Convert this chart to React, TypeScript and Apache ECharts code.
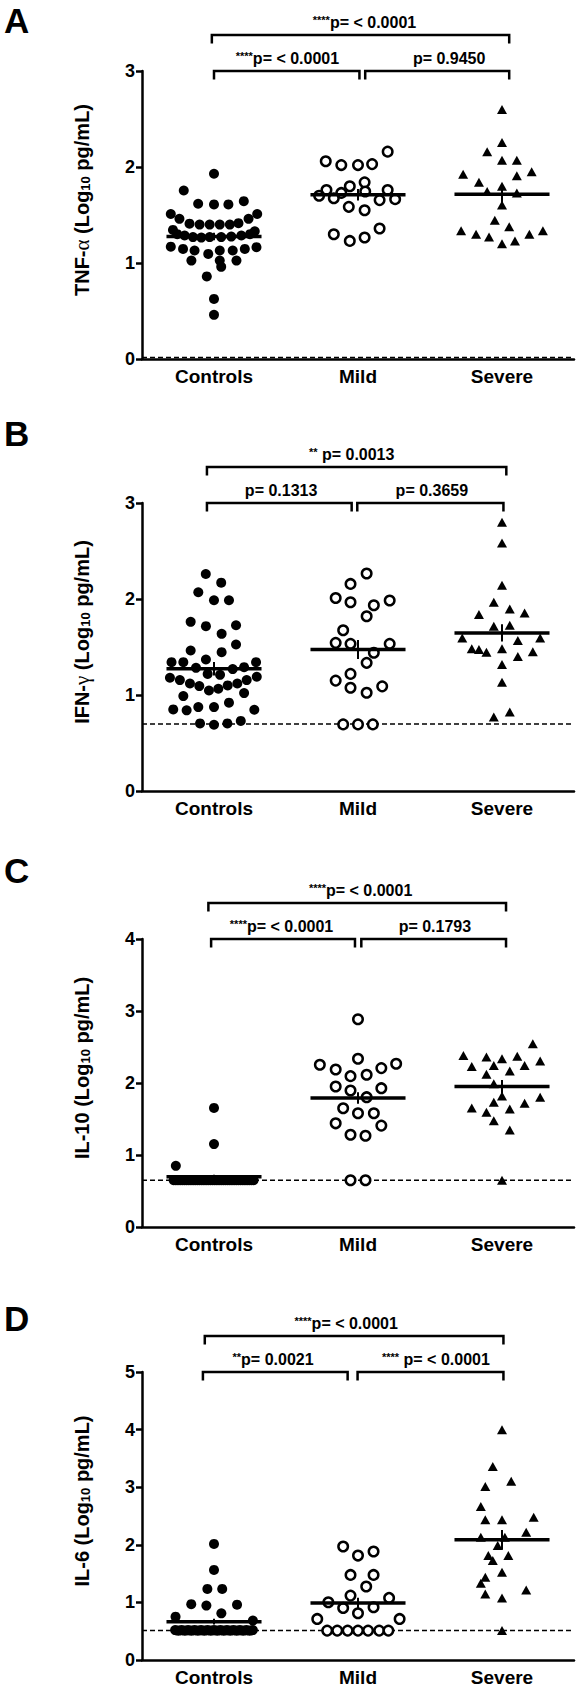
import React, { useEffect, useRef } from "react";
import * as echarts from "echarts";

const FONT = '"Liberation Sans", Arial, Helvetica, sans-serif';
const CATEGORIES = ["Controls", "Mild", "Severe"];

// Each point: [horizontal jitter within group (category units), log10 value]
// ---------- Panel A : TNF-alpha ----------
const A_CONTROLS = [
  [0, 1.93], [-0.21, 1.755], [-0.11, 1.617], [0, 1.61], [0.1, 1.61], [0.207, 1.644],
  [-0.3, 1.51], [0.3, 1.51], [-0.24, 1.46], [0.24, 1.46],
  [-0.17, 1.41], [-0.1, 1.4], [-0.03, 1.4], [0.04, 1.4], [0.11, 1.4], [0.17, 1.415],
  [-0.285, 1.345], [0.283, 1.33],
  [-0.255, 1.3], [-0.204, 1.286], [-0.146, 1.27], [-0.088, 1.265], [-0.03, 1.27], [0.05, 1.27], [0.12, 1.275], [0.19, 1.286], [0.25, 1.3],
  [-0.3, 1.17], [-0.215, 1.147], [-0.135, 1.13], [-0.04, 1.095], [0.04, 1.13], [0.13, 1.13], [0.214, 1.147], [0.295, 1.165],
  [-0.157, 1.025], [0.04, 1.025], [0.05, 0.96], [0.156, 1.025],
  [-0.05, 0.86], [0, 0.626], [0, 0.46],
];
const A_MILD = [
  [0.206, 2.16], [-0.224, 2.06], [-0.116, 2.02], [0, 2.02], [0.098, 2.03],
  [0.046, 1.84], [-0.057, 1.8], [-0.219, 1.76], [0.206, 1.76],
  [-0.27, 1.7], [-0.116, 1.73], [0.05, 1.745],
  [-0.168, 1.675], [0.15, 1.655], [0.258, 1.665],
  [-0.064, 1.585], [0.046, 1.55],
  [-0.168, 1.3], [0.15, 1.36], [-0.057, 1.23], [0.046, 1.266],
];
const A_SEVERE = [
  [0, 2.6], [0, 2.255], [-0.103, 2.16], [0, 2.07], [0.103, 2.07],
  [-0.27, 1.925], [0.206, 1.95], [0.103, 1.91], [-0.16, 1.84], [0, 1.8],
  [-0.103, 1.745], [0.103, 1.73], [0, 1.605], [-0.05, 1.446], [0.05, 1.377],
  [-0.284, 1.335], [-0.18, 1.3], [-0.09, 1.27], [0, 1.2], [0.09, 1.23], [0.19, 1.3], [0.284, 1.335],
];
const A_MEANS = [1.276, 1.71, 1.717];
const A_SEMS = [0.04, 0.06, 0.1];
const A_LIMIT = 0.015;
const A_BRACKETS = [
  { x1: 0, x2: 1.01, level: 0, tx: 0.51, stars: "****", text: "p= < 0.0001" },
  { x1: 1.05, x2: 2.05, level: 0, tx: 1.633, stars: "", text: "p= 0.9450" },
  { x1: -0.015, x2: 2.05, level: 1, tx: 1.045, stars: "****", text: "p= < 0.0001" },
];

// ---------- Panel B : IFN-gamma ----------
const B_CONTROLS = [
  [-0.057, 2.26], [0.05, 2.17], [-0.109, 2.07], [0, 1.987], [0.104, 1.987],
  [-0.162, 1.762], [-0.056, 1.717], [0.153, 1.727], [0.053, 1.637], [0.153, 1.526], [-0.162, 1.464], [0.053, 1.446], [-0.056, 1.37],
  [-0.295, 1.342], [-0.213, 1.342], [0.292, 1.342],
  [-0.125, 1.283], [0.209, 1.29], [0.13, 1.27],
  [-0.044, 1.22], [0.042, 1.21],
  [-0.306, 1.18], [-0.237, 1.155], [-0.167, 1.12], [-0.102, 1.093], [0.297, 1.19], [0.227, 1.155], [0.162, 1.12], [0.095, 1.1],
  [-0.035, 1.047], [0.03, 1.065],
  [-0.213, 0.989], [0.209, 1.02],
  [-0.283, 0.85], [-0.19, 0.84], [-0.109, 0.874], [0, 0.874], [0.104, 0.92], [0.28, 0.846],
  [-0.097, 0.704], [0, 0.69], [0.093, 0.704], [0.186, 0.73],
];
const B_MILD = [
  [0.06, 2.265], [-0.052, 2.157], [-0.155, 2.01], [-0.052, 1.966], [0.11, 1.935], [0.22, 1.984],
  [0.06, 1.82], [-0.103, 1.675], [-0.155, 1.543], [-0.052, 1.533], [0.22, 1.533],
  [0.11, 1.44], [0.06, 1.335], [-0.052, 1.22], [-0.155, 1.15],
  [-0.052, 1.075], [0.06, 1.023], [0.168, 1.09],
  [-0.103, 0.694], [0, 0.694], [0.103, 0.694],
];
const B_SEVERE = [
  [0, 2.8], [0, 2.584], [0, 2.143], [-0.057, 1.966],
  [-0.16, 1.838], [0.054, 1.897], [0.157, 1.855],
  [-0.057, 1.717], [0.054, 1.727],
  [-0.276, 1.595], [0.265, 1.595],
  [-0.21, 1.481], [-0.16, 1.474], [-0.108, 1.446], [0, 1.481], [0.11, 1.568], [0.214, 1.45], [0.11, 1.4],
  [0, 1.318], [0, 1.134], [-0.057, 0.77], [0.054, 0.822],
];
const B_MEANS = [1.273, 1.474, 1.647];
const B_SEMS = [0.07, 0.1, 0.09];
const B_LIMIT = 0.699;
const B_BRACKETS = [
  { x1: -0.049, x2: 0.956, level: 0, tx: 0.466, stars: "", text: "p= 0.1313" },
  { x1: 0.995, x2: 2.01, level: 0, tx: 1.513, stars: "", text: "p= 0.3659" },
  { x1: -0.049, x2: 2.03, level: 1, tx: 0.956, stars: "**", text: " p= 0.0013" },
];

// ---------- Panel C : IL-10 ----------
const C_CONTROLS = [
  [0, 1.654], [0, 1.152], [-0.265, 0.85],
  [-0.28, 0.65], [-0.265, 0.65], [-0.25, 0.65], [-0.235, 0.65], [-0.22, 0.65], [-0.205, 0.65],
  [-0.19, 0.65], [-0.175, 0.65], [-0.16, 0.65], [-0.145, 0.65], [-0.13, 0.65], [-0.115, 0.65],
  [-0.1, 0.65], [-0.085, 0.65], [-0.07, 0.65], [-0.055, 0.65], [-0.04, 0.65], [-0.025, 0.65],
  [-0.01, 0.65], [0.005, 0.65], [0.02, 0.65], [0.035, 0.65], [0.05, 0.65], [0.065, 0.65],
  [0.08, 0.65], [0.095, 0.65], [0.11, 0.65], [0.125, 0.65], [0.14, 0.65], [0.155, 0.65],
  [0.17, 0.65], [0.185, 0.65], [0.2, 0.65], [0.215, 0.65], [0.23, 0.65], [0.245, 0.65],
  [0.26, 0.65], [0.275, 0.65],
];
const C_MILD = [
  [0, 2.885], [0, 2.337], [-0.265, 2.253], [0.265, 2.267], [-0.155, 2.188], [0.162, 2.207],
  [-0.052, 2.095], [0.06, 2.114], [-0.155, 1.951], [-0.052, 1.895], [0.162, 1.928],
  [0.06, 1.803], [-0.103, 1.65], [0, 1.58], [0.11, 1.58],
  [-0.155, 1.44], [0.162, 1.408], [-0.052, 1.282], [0.052, 1.268],
  [-0.052, 0.65], [0.052, 0.65],
];
const C_SEVERE = [
  [0.214, 2.546], [-0.268, 2.383], [-0.108, 2.36], [0, 2.337], [0.106, 2.37], [0.265, 2.304],
  [-0.21, 2.23], [-0.057, 2.244], [0.157, 2.244],
  [-0.108, 2.12], [0.054, 2.165], [-0.057, 1.99],
  [0, 1.82], [0.265, 1.803], [0.157, 1.72],
  [-0.21, 1.654], [-0.057, 1.733], [0.054, 1.64],
  [-0.108, 1.593], [-0.057, 1.477], [0.054, 1.347], [0, 0.65],
];
const C_MEANS = [0.697, 1.793, 1.951];
const C_SEMS = [0.03, 0.08, 0.09];
const C_LIMIT = 0.65;
const C_BRACKETS = [
  { x1: -0.02, x2: 0.979, level: 0, tx: 0.469, stars: "****", text: "p= < 0.0001" },
  { x1: 1.023, x2: 2.028, level: 0, tx: 1.534, stars: "", text: "p= 0.1793" },
  { x1: -0.039, x2: 2.028, level: 1, tx: 1.018, stars: "****", text: "p= < 0.0001" },
];

// ---------- Panel D : IL-6 ----------
const D_CONTROLS = [
  [0, 2.016], [0, 1.564], [-0.046, 1.234], [0.057, 1.234], [-0.158, 0.97], [-0.053, 0.945], [0.16, 0.96],
  [0.051, 0.81], [-0.267, 0.753], [0.27, 0.684],
  [-0.27, 0.52], [-0.255, 0.51], [-0.24, 0.51], [-0.225, 0.52], [-0.21, 0.51], [-0.195, 0.51],
  [-0.18, 0.52], [-0.165, 0.51], [-0.15, 0.51], [-0.135, 0.52], [-0.12, 0.51], [-0.105, 0.51],
  [-0.09, 0.52], [-0.075, 0.51], [-0.06, 0.51], [-0.045, 0.52], [-0.03, 0.51], [-0.015, 0.51],
  [0, 0.52], [0.015, 0.51], [0.03, 0.51], [0.045, 0.52], [0.06, 0.51], [0.075, 0.51],
  [0.09, 0.52], [0.105, 0.51], [0.12, 0.51], [0.135, 0.52], [0.15, 0.51], [0.165, 0.51],
  [0.18, 0.52], [0.195, 0.51], [0.21, 0.51], [0.225, 0.52], [0.24, 0.51], [0.255, 0.51], [0.27, 0.52],
];
const D_MILD = [
  [-0.103, 1.97], [0, 1.813], [0.108, 1.883], [-0.052, 1.477], [0.108, 1.477], [0.057, 1.275], [-0.052, 1.118],
  [-0.206, 1.002], [0.216, 1.078], [-0.103, 0.904], [0.108, 0.915], [0, 0.811],
  [-0.283, 0.713], [0.289, 0.713],
  [-0.214, 0.51], [-0.144, 0.51], [-0.072, 0.51], [0, 0.51], [0.07, 0.51], [0.147, 0.51], [0.211, 0.51],
];
const D_SEVERE = [
  [0, 3.998], [-0.064, 3.36], [0.064, 3.105], [-0.116, 3.013], [-0.147, 2.665],
  [-0.116, 2.433], [0, 2.433], [0.22, 2.48], [0.168, 2.22], [-0.147, 2.13], [0.02, 2.13],
  [-0.03, 1.99], [-0.095, 1.813], [0.044, 1.813], [-0.064, 1.727],
  [0, 1.524], [-0.116, 1.437], [-0.147, 1.333], [0.168, 1.217], [-0.116, 1.147], [0, 1.078], [0, 0.51],
];
const D_MEANS = [0.665, 0.99, 2.086];
const D_SEMS = [0.05, 0.09, 0.17];
const D_LIMIT = 0.51;
const D_BRACKETS = [
  { x1: -0.077, x2: 0.928, level: 0, tx: 0.41, stars: "**", text: "p= 0.0021" },
  { x1: 0.997, x2: 2.01, level: 0, tx: 1.541, stars: "****", text: " p= < 0.0001" },
  { x1: -0.064, x2: 2.01, level: 1, tx: 0.918, stars: "****", text: "p= < 0.0001" },
];

const PANELS = [
  { letter: "A", letterY: 20, top: 71, yMax: 3, yName: "TNF-{g|α} (Log{sub|10} pg/mL)", controls: A_CONTROLS, mild: A_MILD, severe: A_SEVERE, means: A_MEANS, sems: A_SEMS, limit: A_LIMIT, brackets: A_BRACKETS },
  { letter: "B", letterY: 433, top: 503, yMax: 3, yName: "IFN-{g|γ} (Log{sub|10} pg/mL)", controls: B_CONTROLS, mild: B_MILD, severe: B_SEVERE, means: B_MEANS, sems: B_SEMS, limit: B_LIMIT, brackets: B_BRACKETS },
  { letter: "C", letterY: 870, top: 939, yMax: 4, yName: "IL-10 (Log{sub|10} pg/mL)", controls: C_CONTROLS, mild: C_MILD, severe: C_SEVERE, means: C_MEANS, sems: C_SEMS, limit: C_LIMIT, brackets: C_BRACKETS },
  { letter: "D", letterY: 1318, top: 1372, yMax: 5, yName: "IL-6 (Log{sub|10} pg/mL)", controls: D_CONTROLS, mild: D_MILD, severe: D_SEVERE, means: D_MEANS, sems: D_SEMS, limit: D_LIMIT, brackets: D_BRACKETS },
];

function buildOption() {
  const grid: any[] = [];
  const xAxis: any[] = [];
  const yAxis: any[] = [];
  const series: any[] = [];
  const graphic: any[] = [];

  PANELS.forEach((p, i) => {
    grid.push({ left: 142, right: 7, top: p.top, height: 288 });
    xAxis.push({
      type: "category",
      gridIndex: i,
      data: CATEGORIES,
      boundaryGap: true,
      axisLine: { onZero: false, lineStyle: { color: "#000", width: 2.5 } },
      axisTick: { alignWithLabel: true, length: 6, lineStyle: { color: "#000", width: 2.5 } },
      axisLabel: { color: "#000", fontSize: 19, fontWeight: "bold", fontFamily: FONT, margin: 8 },
      splitLine: { show: false },
    });
    xAxis.push({ type: "value", gridIndex: i, min: -0.5, max: 2.5, show: false });
    yAxis.push({
      type: "value",
      gridIndex: i,
      min: 0,
      max: p.yMax,
      interval: 1,
      axisLine: { show: true, onZero: false, lineStyle: { color: "#000", width: 2.5 } },
      axisTick: { show: true, length: 6, lineStyle: { color: "#000", width: 2.5 } },
      axisLabel: { color: "#000", fontSize: 18, fontWeight: "bold", fontFamily: FONT, margin: 7 },
      splitLine: { show: false },
      name: p.yName,
      nameLocation: "middle",
      nameRotate: 90,
      nameGap: 50,
      nameTextStyle: {
        color: "#000",
        fontSize: 20,
        fontWeight: "bold",
        fontFamily: FONT,
        padding: [0, 0, 0, 30],
        rich: {
          g: { fontFamily: '"Liberation Serif", serif', fontWeight: "normal", fontSize: 21, color: "#000" },
          sub: { fontFamily: FONT, fontWeight: "bold", fontSize: 13, color: "#000", verticalAlign: "bottom" },
        },
      },
    });

    const xi = 2 * i + 1;
    series.push({
      type: "line",
      xAxisIndex: xi,
      yAxisIndex: i,
      data: [[-0.5, p.limit], [2.5, p.limit]],
      symbol: "none",
      silent: true,
      lineStyle: { color: "#000", width: 1.5, type: [5, 3] },
      z: 1,
    });
    series.push({
      type: "scatter",
      xAxisIndex: xi,
      yAxisIndex: i,
      data: p.controls.map(([dx, v]) => [0 + dx, v]),
      symbol: "circle",
      symbolSize: 10,
      itemStyle: { color: "#000", opacity: 1 },
      z: 2,
    });
    series.push({
      type: "scatter",
      xAxisIndex: xi,
      yAxisIndex: i,
      data: p.mild.map(([dx, v]) => [1 + dx, v]),
      symbol: "circle",
      symbolSize: 9.5,
      itemStyle: { color: "#fff", borderColor: "#000", borderWidth: 2.5, opacity: 1 },
      z: 2,
    });
    series.push({
      type: "scatter",
      xAxisIndex: xi,
      yAxisIndex: i,
      data: p.severe.map(([dx, v]) => [2 + dx, v]),
      symbol: "triangle",
      symbolSize: [10, 9],
      itemStyle: { color: "#000", opacity: 1 },
      z: 2,
    });
    series.push({
      type: "custom",
      xAxisIndex: xi,
      yAxisIndex: i,
      z: 3,
      silent: true,
      clip: false,
      data: p.means.map((m, k) => [k, m, p.sems[k]]),
      renderItem: (_params: any, api: any) => {
        const x = api.value(0);
        const m = api.value(1);
        const s = api.value(2);
        const l = api.coord([x - 0.33, m]);
        const r = api.coord([x + 0.33, m]);
        const t = api.coord([x, m + s]);
        const b = api.coord([x, m - s]);
        return {
          type: "group",
          children: [
            { type: "line", shape: { x1: l[0], y1: l[1], x2: r[0], y2: r[1] }, style: { stroke: "#000", lineWidth: 3.5 } },
            { type: "line", shape: { x1: t[0], y1: t[1], x2: b[0], y2: b[1] }, style: { stroke: "#000", lineWidth: 2 } },
          ],
        };
      },
    });
    const brs = p.brackets;
    series.push({
      type: "custom",
      xAxisIndex: xi,
      yAxisIndex: i,
      z: 3,
      silent: true,
      clip: false,
      data: brs.map((b) => [b.x1, p.yMax]),
      renderItem: (params: any, api: any) => {
        const b = brs[params.dataIndex];
        const a = api.coord([b.x1, p.yMax]);
        const c = api.coord([b.x2, p.yMax]);
        const tpt = api.coord([b.tx, p.yMax]);
        const y = a[1] - (b.level ? 36 : 0);
        const txt = b.stars ? `{s|${b.stars}}${b.text}` : b.text;
        return {
          type: "group",
          children: [
            {
              type: "polyline",
              shape: { points: [[a[0], y + 8.5], [a[0], y], [c[0], y], [c[0], y + 8.5]] },
              style: { stroke: "#000", lineWidth: 2.5, fill: null },
            },
            {
              type: "text",
              x: tpt[0],
              y: y - 13,
              style: {
                text: txt,
                fill: "#000",
                fontSize: 16,
                fontWeight: "bold",
                fontFamily: FONT,
                align: "center",
                verticalAlign: "middle",
                rich: {
                  s: { fontSize: 11, fontWeight: "bold", fontFamily: FONT, fill: "#000", verticalAlign: "top" },
                },
              },
            },
          ],
        };
      },
    });

    graphic.push({
      type: "text",
      x: 4,
      y: p.letterY,
      style: {
        text: p.letter,
        fill: "#000",
        fontSize: 35,
        fontWeight: "bold",
        fontFamily: FONT,
        verticalAlign: "middle",
      },
    });
  });

  return {
    animation: false,
    backgroundColor: "#fff",
    grid,
    xAxis,
    yAxis,
    series,
    graphic,
  };
}

export default function App() {
  const ref = useRef<HTMLDivElement>(null);
  useEffect(() => {
    document.body.style.margin = "0";
    const chart = echarts.init(ref.current as HTMLDivElement, null, { renderer: "svg" });
    chart.setOption(buildOption() as any);
    return () => chart.dispose();
  }, []);
  return (
    <div
      ref={ref}
      style={{ position: "absolute", left: 0, top: 0, width: 581, height: 1689, background: "#fff" }}
    />
  );
}
